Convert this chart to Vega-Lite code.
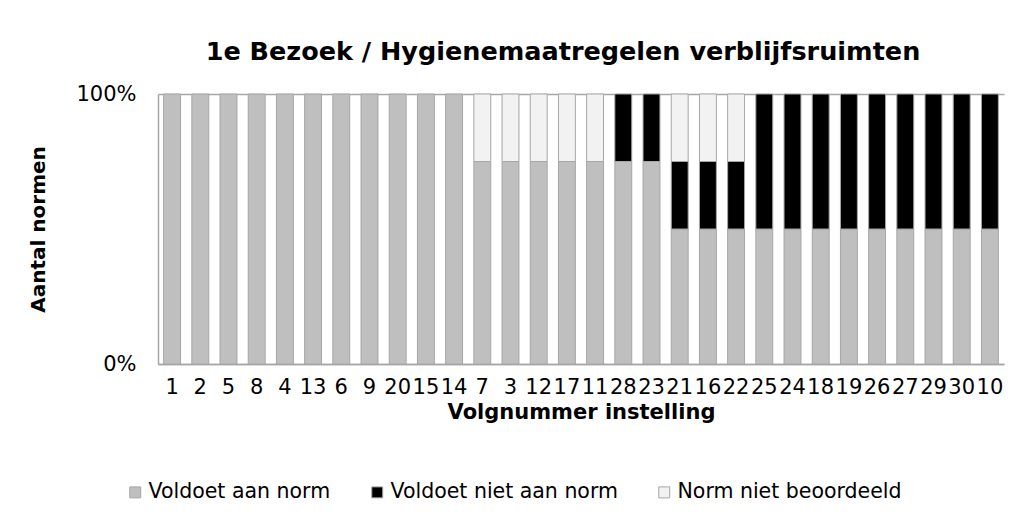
{
  "$schema": "https://vega.github.io/schema/vega-lite/v6.json",
  "width": 846,
  "height": 270,
  "autosize": "none",
  "padding": {"left": 158, "top": 94, "right": 26, "bottom": 159},
  "background": "white",
  "title": {
    "text": "1e Bezoek / Hygienemaatregelen verblijfsruimten",
    "font": "DejaVu Sans",
    "fontSize": 25.5,
    "fontWeight": "bold",
    "color": "black",
    "anchor": "middle",
    "frame": "group",
    "dx": -18,
    "offset": 18
  },
  "data": {
    "values": [
      {"instelling": "1", "categorie": "Voldoet aan norm", "rang": 1, "aantal": 4},
      {"instelling": "2", "categorie": "Voldoet aan norm", "rang": 1, "aantal": 4},
      {"instelling": "5", "categorie": "Voldoet aan norm", "rang": 1, "aantal": 4},
      {"instelling": "8", "categorie": "Voldoet aan norm", "rang": 1, "aantal": 4},
      {"instelling": "4", "categorie": "Voldoet aan norm", "rang": 1, "aantal": 4},
      {"instelling": "13", "categorie": "Voldoet aan norm", "rang": 1, "aantal": 4},
      {"instelling": "6", "categorie": "Voldoet aan norm", "rang": 1, "aantal": 4},
      {"instelling": "9", "categorie": "Voldoet aan norm", "rang": 1, "aantal": 4},
      {"instelling": "20", "categorie": "Voldoet aan norm", "rang": 1, "aantal": 4},
      {"instelling": "15", "categorie": "Voldoet aan norm", "rang": 1, "aantal": 4},
      {"instelling": "14", "categorie": "Voldoet aan norm", "rang": 1, "aantal": 4},
      {"instelling": "7", "categorie": "Voldoet aan norm", "rang": 1, "aantal": 3},
      {"instelling": "7", "categorie": "Norm niet beoordeeld", "rang": 3, "aantal": 1},
      {"instelling": "3", "categorie": "Voldoet aan norm", "rang": 1, "aantal": 3},
      {"instelling": "3", "categorie": "Norm niet beoordeeld", "rang": 3, "aantal": 1},
      {"instelling": "12", "categorie": "Voldoet aan norm", "rang": 1, "aantal": 3},
      {"instelling": "12", "categorie": "Norm niet beoordeeld", "rang": 3, "aantal": 1},
      {"instelling": "17", "categorie": "Voldoet aan norm", "rang": 1, "aantal": 3},
      {"instelling": "17", "categorie": "Norm niet beoordeeld", "rang": 3, "aantal": 1},
      {"instelling": "11", "categorie": "Voldoet aan norm", "rang": 1, "aantal": 3},
      {"instelling": "11", "categorie": "Norm niet beoordeeld", "rang": 3, "aantal": 1},
      {"instelling": "28", "categorie": "Voldoet aan norm", "rang": 1, "aantal": 3},
      {"instelling": "28", "categorie": "Voldoet niet aan norm", "rang": 2, "aantal": 1},
      {"instelling": "23", "categorie": "Voldoet aan norm", "rang": 1, "aantal": 3},
      {"instelling": "23", "categorie": "Voldoet niet aan norm", "rang": 2, "aantal": 1},
      {"instelling": "21", "categorie": "Voldoet aan norm", "rang": 1, "aantal": 2},
      {"instelling": "21", "categorie": "Voldoet niet aan norm", "rang": 2, "aantal": 1},
      {"instelling": "21", "categorie": "Norm niet beoordeeld", "rang": 3, "aantal": 1},
      {"instelling": "16", "categorie": "Voldoet aan norm", "rang": 1, "aantal": 2},
      {"instelling": "16", "categorie": "Voldoet niet aan norm", "rang": 2, "aantal": 1},
      {"instelling": "16", "categorie": "Norm niet beoordeeld", "rang": 3, "aantal": 1},
      {"instelling": "22", "categorie": "Voldoet aan norm", "rang": 1, "aantal": 2},
      {"instelling": "22", "categorie": "Voldoet niet aan norm", "rang": 2, "aantal": 1},
      {"instelling": "22", "categorie": "Norm niet beoordeeld", "rang": 3, "aantal": 1},
      {"instelling": "25", "categorie": "Voldoet aan norm", "rang": 1, "aantal": 2},
      {"instelling": "25", "categorie": "Voldoet niet aan norm", "rang": 2, "aantal": 2},
      {"instelling": "24", "categorie": "Voldoet aan norm", "rang": 1, "aantal": 2},
      {"instelling": "24", "categorie": "Voldoet niet aan norm", "rang": 2, "aantal": 2},
      {"instelling": "18", "categorie": "Voldoet aan norm", "rang": 1, "aantal": 2},
      {"instelling": "18", "categorie": "Voldoet niet aan norm", "rang": 2, "aantal": 2},
      {"instelling": "19", "categorie": "Voldoet aan norm", "rang": 1, "aantal": 2},
      {"instelling": "19", "categorie": "Voldoet niet aan norm", "rang": 2, "aantal": 2},
      {"instelling": "26", "categorie": "Voldoet aan norm", "rang": 1, "aantal": 2},
      {"instelling": "26", "categorie": "Voldoet niet aan norm", "rang": 2, "aantal": 2},
      {"instelling": "27", "categorie": "Voldoet aan norm", "rang": 1, "aantal": 2},
      {"instelling": "27", "categorie": "Voldoet niet aan norm", "rang": 2, "aantal": 2},
      {"instelling": "29", "categorie": "Voldoet aan norm", "rang": 1, "aantal": 2},
      {"instelling": "29", "categorie": "Voldoet niet aan norm", "rang": 2, "aantal": 2},
      {"instelling": "30", "categorie": "Voldoet aan norm", "rang": 1, "aantal": 2},
      {"instelling": "30", "categorie": "Voldoet niet aan norm", "rang": 2, "aantal": 2},
      {"instelling": "10", "categorie": "Voldoet aan norm", "rang": 1, "aantal": 2},
      {"instelling": "10", "categorie": "Voldoet niet aan norm", "rang": 2, "aantal": 2}
    ]
  },
  "mark": {"type": "bar", "stroke": "#a6a6a6", "strokeWidth": 1},
  "encoding": {
    "x": {
      "field": "instelling",
      "type": "nominal",
      "sort": ["1","2","5","8","4","13","6","9","20","15","14","7","3","12","17","11","28","23","21","16","22","25","24","18","19","26","27","29","30","10"],
      "scale": {"paddingInner": 0.4, "paddingOuter": 0.2},
      "axis": {
        "title": "Volgnummer  instelling",
        "labelAngle": 0,
        "labelFont": "DejaVu Sans",
        "labelFontSize": 21,
        "labelColor": "black",
        "labelPadding": 12,
        "labelOverlap": false,
        "ticks": false,
        "domainColor": "#a6a6a6",
        "domainWidth": 1.5,
        "titleFont": "DejaVu Sans",
        "titleFontSize": 21,
        "titleFontWeight": "bold",
        "titleColor": "black",
        "titlePadding": 4
      }
    },
    "y": {
      "field": "aantal",
      "type": "quantitative",
      "stack": "normalize",
      "scale": {"domain": [0, 1]},
      "axis": {
        "title": "Aantal normen",
        "values": [0, 1],
        "format": ".0%",
        "labelFont": "DejaVu Sans",
        "labelFontSize": 21,
        "labelColor": "black",
        "labelPadding": 22,
        "ticks": false,
        "grid": true,
        "gridColor": "#a6a6a6",
        "gridWidth": 1.5,
        "domainColor": "#a6a6a6",
        "domainWidth": 1.5,
        "titleFont": "DejaVu Sans",
        "titleFontSize": 20,
        "titleFontWeight": "bold",
        "titleColor": "black",
        "titlePadding": 27
      }
    },
    "color": {
      "field": "categorie",
      "type": "nominal",
      "sort": ["Voldoet aan norm", "Voldoet niet aan norm", "Norm niet beoordeeld"],
      "scale": {
        "domain": ["Voldoet aan norm", "Voldoet niet aan norm", "Norm niet beoordeeld"],
        "range": ["#bfbfbf", "#000000", "#f2f2f2"]
      },
      "legend": {
        "title": null,
        "orient": "none",
        "direction": "horizontal",
        "legendX": -33,
        "legendY": 388,
        "symbolType": "square",
        "symbolSize": 120,
        "symbolStrokeColor": "#a6a6a6",
        "symbolStrokeWidth": 1,
        "labelFont": "DejaVu Sans",
        "labelFontSize": 20.5,
        "labelColor": "black",
        "labelOffset": 3,
        "columnPadding": 36,
        "labelLimit": 400
      }
    },
    "order": {"field": "rang", "type": "quantitative", "sort": "ascending"}
  },
  "config": {
    "view": {"stroke": null}
  }
}
